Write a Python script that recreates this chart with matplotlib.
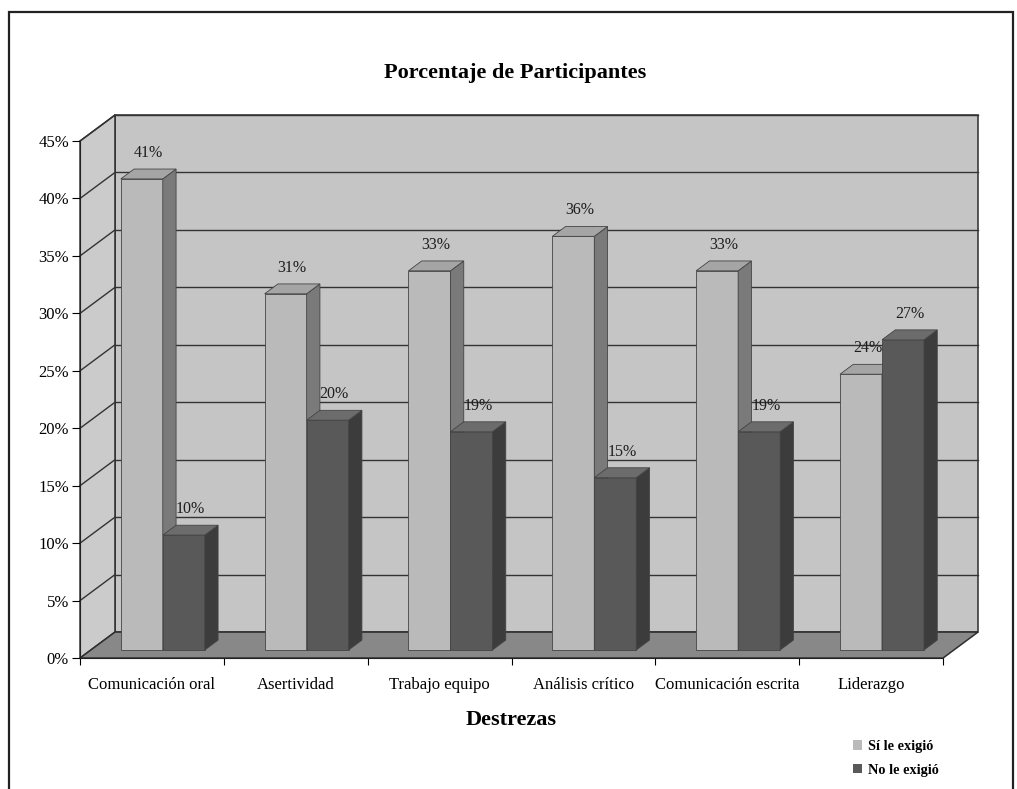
import matplotlib.pyplot as plt
from matplotlib.patches import Polygon, Patch, Rectangle

# data
destrezas = ['Comunicación oral', 'Asertividad', 'Trabajo equipo',
             'Análisis crítico', 'Comunicación escrita', 'Liderazgo']
si_exigio = [41, 31, 33, 36, 33, 24]
no_exigio = [10, 20, 19, 15, 19, 27]
series = ['Sí le exigió', 'No le exigió']

plt.rcParams['font.family'] = ['Liberation Serif', 'DejaVu Serif']

# pseudo-3D geometry (data units)
DX, DY = 0.243, 2.26          # depth of the walls
BAR_W = 0.292                 # bar width
OFF, DEP = 0.31, 0.38         # bar front offset and bar depth, as fraction of wall depth
YMAX = 45

# face colours: front, side, top
caras = [('#bababa', '#7a7a7a', '#a5a5a5'),
         ('#595959', '#3c3c3c', '#6c6c6c')]

fig = plt.figure(figsize=(10.17, 7.89), dpi=100)
ax = fig.add_axes([0.0787, 0.166, 0.8486, 0.6553])
ax.set_xlim(0, len(destrezas))
ax.set_ylim(0, YMAX)

n = len(destrezas)

# walls and floor
ax.add_patch(Polygon([(DX, DY), (n + DX, DY), (n + DX, YMAX + DY), (DX, YMAX + DY)],
                     closed=True, fc='#c5c5c5', ec='#2e2e2e', lw=1.1, zorder=0, clip_on=False))
ax.add_patch(Polygon([(0, 0), (DX, DY), (DX, YMAX + DY), (0, YMAX)],
                     closed=True, fc='#cbcbcb', ec='#2e2e2e', lw=1.1, zorder=0, clip_on=False))
ax.add_patch(Polygon([(0, 0), (n, 0), (n + DX, DY), (DX, DY)],
                     closed=True, fc='#888888', ec='#2e2e2e', lw=1.1, zorder=1, clip_on=False))

# gridlines on back and side wall
for v in range(5, YMAX + 1, 5):
    ax.plot([DX, n + DX], [v + DY, v + DY], color='#333333', lw=1.0, zorder=0.5, clip_on=False)
    ax.plot([0, DX], [v, v + DY], color='#333333', lw=1.0, zorder=0.5, clip_on=False)

# bars
ox, oy = OFF * DX, OFF * DY
fx, fy = DEP * DX, DEP * DY
for i in range(n):
    for j, vals in enumerate([si_exigio, no_exigio]):
        v = vals[i]
        xl = i + 0.5 - BAR_W + j * BAR_W + ox
        xr = xl + BAR_W
        front, side, top = caras[j]
        z = 2 + i * 2 + j
        ax.add_patch(Polygon([(xl, oy), (xr, oy), (xr, v + oy), (xl, v + oy)],
                             closed=True, fc=front, ec='#444444', lw=0.6, zorder=z, clip_on=False))
        ax.add_patch(Polygon([(xr, oy), (xr + fx, oy + fy), (xr + fx, v + oy + fy), (xr, v + oy)],
                             closed=True, fc=side, ec='#444444', lw=0.6, zorder=z, clip_on=False))
        ax.add_patch(Polygon([(xl, v + oy), (xr, v + oy), (xr + fx, v + oy + fy), (xl + fx, v + oy + fy)],
                             closed=True, fc=top, ec='#444444', lw=0.6, zorder=z, clip_on=False))
        ax.text(xl + BAR_W / 2 + fx / 2, v + oy + fy + 0.7, f'{v}%',
                ha='center', va='bottom', fontsize=11.5, color='#1e1e1e', zorder=20)

# axes styling
for s in ['top', 'right']:
    ax.spines[s].set_visible(False)
ax.spines['left'].set_color('#222222')
ax.spines['bottom'].set_color('#222222')
ax.spines['left'].set_zorder(30)
ax.spines['bottom'].set_zorder(30)
ax.patch.set_visible(False)

ax.set_yticks(range(0, YMAX + 1, 5))
ax.set_yticklabels([f'{v}%' for v in range(0, YMAX + 1, 5)], fontsize=12)
ax.set_xticks(range(0, n + 1))
ax.set_xticklabels([])
ax.set_xticks([i + 0.5 for i in range(n)], minor=True)
ax.set_xticklabels(destrezas, minor=True, fontsize=12)
ax.tick_params(axis='x', which='minor', length=0, pad=14)
ax.tick_params(axis='x', which='major', length=5, direction='out')
ax.tick_params(axis='y', length=6, direction='out', pad=2)

ax.set_xlabel('Destrezas', fontsize=16, fontweight='bold', labelpad=12)
fig.text(0.507, 1 - 73 / 789, 'Porcentaje de Participantes', ha='center', va='center',
         fontsize=16, fontweight='bold')

# legend
handles = [Patch(fc=caras[0][0], ec='none'), Patch(fc=caras[1][0], ec='none')]
fig.legend(handles, series, loc='upper left', bbox_to_anchor=(840 / 1017, 1 - 727 / 789),
           frameon=False, handlelength=0.65, handleheight=0.65, handletextpad=0.4,
           labelspacing=0.75, prop={'weight': 'bold', 'size': 10.3})

# outer frame
fig.patches.append(Rectangle((9 / 1017, -0.02), 1004 / 1017, 0.02 + (789 - 12) / 789,
                             transform=fig.transFigure, fill=False, ec='#222222', lw=1.6))

fig.savefig('out.png', dpi=100)
